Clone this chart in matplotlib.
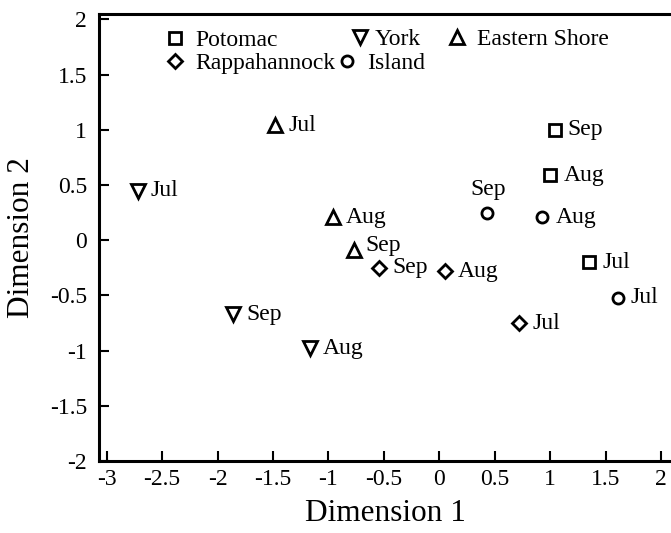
import numpy as np
import matplotlib
matplotlib.use('Agg')
import matplotlib.pyplot as plt
from matplotlib.legend import Legend

plt.rcParams['font.family'] = ['Liberation Serif', 'DejaVu Serif']

# site coordinates (Dimension 1, Dimension 2) for Jul, Aug, Sep
sites = ['Potomac', 'Rappahannock', 'York', 'Island', 'Eastern Shore']
months = ['Jul', 'Aug', 'Sep']
dim1 = {
    'Potomac':       [1.35, 1.00, 1.04],
    'Rappahannock':  [0.72, 0.05, -0.54],
    'York':          [-2.72, -1.17, -1.86],
    'Island':        [1.61, 0.93, 0.43],
    'Eastern Shore': [-1.48, -0.96, -0.77],
}
dim2 = {
    'Potomac':       [-0.20, 0.59, 1.00],
    'Rappahannock':  [-0.75, -0.28, -0.25],
    'York':          [0.45, -0.98, -0.67],
    'Island':        [-0.52, 0.21, 0.25],
    'Eastern Shore': [1.04, 0.21, -0.09],
}
markers = {'Potomac': 's', 'Rappahannock': 'D', 'York': 'v',
           'Island': 'o', 'Eastern Shore': '^'}
msize = {'Potomac': 9, 'Rappahannock': 7, 'York': 10, 'Island': 8, 'Eastern Shore': 10}

fig = plt.figure(figsize=(6.71, 5.33), dpi=100)
ax = fig.add_axes([0.1475, 0.135, 0.8525, 0.839])

handles = {}
for s in sites:
    ln, = ax.plot(dim1[s], dim2[s], linestyle='none', marker=markers[s], ms=msize[s],
                  mfc='white', mec='black', mew=2, label=s)
    handles[s] = ln
    for i, m in enumerate(months):
        if s == 'Island' and m == 'Sep':
            ax.annotate(m, (dim1[s][i], dim2[s][i]), xytext=(1, 9),
                        textcoords='offset points', ha='center', va='bottom', fontsize=17)
        elif s == 'Eastern Shore' and m == 'Sep':
            ax.annotate(m, (dim1[s][i], dim2[s][i]), xytext=(8, 3),
                        textcoords='offset points', ha='left', va='center', fontsize=17)
        else:
            ax.annotate(m, (dim1[s][i], dim2[s][i]), xytext=(9.5, 0),
                        textcoords='offset points', ha='left', va='center', fontsize=17)

ax.set_xlim(-3.07, 2.09)
ax.set_ylim(-2, 2.05)
ax.set_xticks(np.arange(-3, 2.01, 0.5))
ax.set_yticks(np.arange(-2, 2.01, 0.5))
ax.set_xticklabels(['-3', '-2.5', '-2', '-1.5', '-1', '-0.5', '0', '0.5', '1', '1.5', '2'])
ax.set_yticklabels(['-2', '-1.5', '-1', '-0.5', '0', '0.5', '1', '1.5', '2'])
ax.tick_params(direction='in', length=7, width=1.5, labelsize=17)
ax.tick_params(axis='y', pad=8.5)
ax.tick_params(axis='x', pad=6)
ax.spines['right'].set_visible(False)
for sp in ['left', 'bottom', 'top']:
    ax.spines[sp].set_linewidth(2.2)

ax.set_xlabel('Dimension 1', fontsize=22.5, labelpad=6)
ax.set_ylabel('Dimension 2', fontsize=22.5, labelpad=10)

# legend entries are not on a regular grid in the original, so place groups separately
groups = [
    (['Potomac', 'Rappahannock'], (0.112, 0.915), 0.35),
    (['York'], (0.435, 0.943), 0.12),
    (['Island'], (0.413, 0.889), 0.35),
    (['Eastern Shore'], (0.605, 0.943), 0.35),
]
for names, anchor, tpad in groups:
    lg = Legend(ax, [handles[n] for n in names], names, loc='center left',
                bbox_to_anchor=anchor, frameon=False, fontsize=17,
                handlelength=1.0, handletextpad=tpad, labelspacing=0.08,
                borderpad=0, borderaxespad=0, markerscale=1.0)
    ax.add_artist(lg)

plt.savefig('out.png', dpi=100)
